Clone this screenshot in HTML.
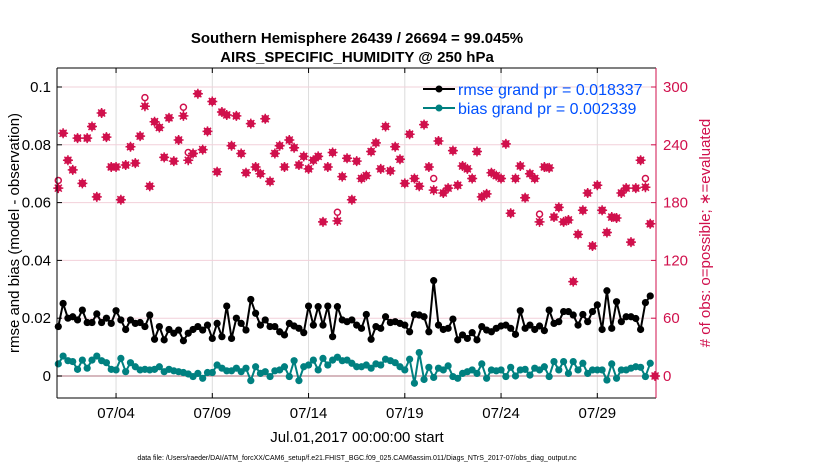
<!DOCTYPE html>
<html><head><meta charset="utf-8"><style>
html,body{margin:0;padding:0;background:#fff;}
svg{display:block;font-family:"Liberation Sans",sans-serif;}
</style></head><body>
<svg id="chart" width="830" height="470" viewBox="0 0 830 470" xmlns="http://www.w3.org/2000/svg">
<text x="357" y="43" text-anchor="middle" font-size="15" font-weight="bold">Southern Hemisphere 26439 / 26694 = 99.045%</text>
<text x="357" y="62" text-anchor="middle" font-size="15" font-weight="bold">AIRS_SPECIFIC_HUMIDITY @ 250 hPa</text>
<g id="grid"></g>
<g id="series"></g>
<g id="axes"></g>
<text transform="translate(19,233) rotate(-90)" text-anchor="middle" font-size="15">rmse and bias (model - observation)</text>
<text transform="translate(710,233) rotate(-90)" text-anchor="middle" font-size="15" fill="#d0104c"># of obs: o=possible; ∗=evaluated</text>
<text x="357" y="442" text-anchor="middle" font-size="15">Jul.01,2017 00:00:00 start</text>
<text x="357" y="460" text-anchor="middle" font-size="7">data file: /Users/raeder/DAI/ATM_forcXX/CAM6_setup/f.e21.FHIST_BGC.f09_025.CAM6assim.011/Diags_NTrS_2017-07/obs_diag_output.nc</text>
<g>
<line x1="423" y1="89" x2="455" y2="89" stroke="#000" stroke-width="2"/><circle cx="439" cy="89" r="3.5" fill="#000"/>
<text x="458" y="95" font-size="16" fill="#0050ff">rmse grand pr = 0.018337</text>
<line x1="423" y1="108" x2="455" y2="108" stroke="#008080" stroke-width="2"/><circle cx="439" cy="108" r="3.5" fill="#008080"/>
<text x="458" y="114" font-size="16" fill="#0050ff">bias grand pr = 0.002339</text>
</g>
</svg>
<script>
// rmse (x1e-3), 6-hourly
const rmse = [17.1,25.1,20.0,20.5,19.4,22.8,18.5,18.5,21.5,18.5,20.0,18.2,22.6,19.4,16.1,19.4,18.2,18.5,17.1,21.1,12.7,17.1,12.5,16.1,14.8,15.9,12.2,14.8,16.1,17.1,15.9,17.6,13.0,18.2,13.6,24.2,13.0,20.0,18.2,15.9,26.5,21.7,17.6,19.4,17.1,17.1,15.3,14.2,18.2,17.3,16.5,15.0,24.2,17.6,24.0,17.6,24.2,13.6,24.0,19.4,18.8,19.4,17.6,16.5,
21.3,12.7,17.1,16.5,20.5,18.5,18.8,18.2,17.6,15.3,21.3,21.1,20.5,15.3,33.0,17.6,16.1,16.5,19.7,12.5,14.2,13.0,15.0,12.5,17.1,15.9,15.3,16.5,17.3,17.6,16.5,14.4,22.6,16.5,17.6,16.1,17.3,15.7,22.8,18.2,18.8,22.3,22.3,21.1,17.6,21.3,18.8,22.3,24.6,16.1,29.5,16.5,25.7,18.8,20.5,20.5,19.9,16.1,25.4,27.7];
const bias = [4.2,6.9,5.3,5.0,2.3,5.5,2.7,5.5,6.9,5.3,4.6,2.3,2.1,6.1,1.5,4.6,3.2,2.1,2.3,2.1,2.3,3.2,1.5,2.3,1.8,1.5,1.2,0.7,-0.2,0.9,-0.8,1.2,1.2,3.8,2.7,1.8,1.8,2.7,1.5,2.7,-1.6,3.2,0.9,1.5,-0.2,1.8,2.1,3.2,-0.2,5.3,-1.6,3.2,3.8,5.5,2.1,6.1,3.8,5.5,6.5,5.3,5.5,4.4,3.2,3.2,
3.8,2.7,4.2,3.8,5.8,5.3,4.6,3.2,2.1,5.8,-2.5,8.1,-1.2,3.0,-0.5,2.7,2.1,3.5,-0.2,-0.8,0.9,1.5,2.1,0.9,4.2,-0.8,2.1,1.8,2.1,-0.2,3.0,0.0,2.1,2.3,0.3,2.7,2.1,3.2,-0.2,5.0,2.1,5.0,0.9,5.0,2.1,4.4,0.9,2.1,2.1,2.1,-1.4,4.2,-0.8,2.1,2.1,2.7,3.2,3.0,-0.2,4.4];
const nEval = [195,252,224,214,247,200,247,259,186,273,248,217,217,183,219,238,221,249,280,197,264,258,227,268,223,245,270,224,231,293,235,254,285,212,274,271,239,270,231,211,262,217,210,267,202,231,239,217,245,237,219,228,215,224,228,160,217,232,161,207,226,183,223,205,
208,233,242,215,259,213,238,225,200,251,205,197,261,217,193,244,190,195,234,198,218,215,205,233,186,189,211,208,205,241,169,205,218,185,210,205,160,217,216,165,175,160,162,98,147,172,190,135,198,172,149,165,164,190,195,139,195,224,196,158,0];
const nPossExtra = [8,0,0,0,0,0,0,0,0,0,0,0,0,0,0,0,0,0,9,0,0,0,0,0,0,0,9,8,0,0,0,0,0,0,0,0,0,0,0,0,0,0,0,0,0,0,0,0,0,0,0,0,0,0,0,0,0,0,9,0,0,0,0,0,
0,0,0,0,0,0,0,0,0,0,0,0,0,0,12,0,0,0,0,0,0,0,0,0,0,0,0,0,0,0,0,0,0,0,0,0,8,0,0,0,0,0,0,0,0,0,0,0,0,0,0,0,0,0,0,0,0,0,9,0,0];
const leftTicks = [0,0.02,0.04,0.06,0.08,0.1];
const leftTickLabels = ["0","0.02","0.04","0.06","0.08","0.1"];
const rightTicks = [0,60,120,180,240,300];
const xTickDays = [3,8,13,18,23,28];
const xTickLabels = ["07/04","07/09","07/14","07/19","07/24","07/29"];

const NS="http://www.w3.org/2000/svg";
const L=57,R=656,T=68,B=398;
const X0=58.3, PXD=19.25;
function xDay(d){return X0+d*PXD;}
function yL(v){return 376-v*2890;}
function yR(c){return 376-c*0.9633;}
function mk(tag,attrs,parent){const e=document.createElementNS(NS,tag);for(const k in attrs)e.setAttribute(k,attrs[k]);parent.appendChild(e);return e;}
const grid=document.getElementById('grid'),ser=document.getElementById('series'),ax=document.getElementById('axes');
xTickDays.forEach((d,i)=>{
  const g=mk('line',{x1:xDay(d),x2:xDay(d),y1:T,y2:B,stroke:'#dcdcdc','stroke-width':1},grid);
  
  
  mk('line',{x1:xDay(d),x2:xDay(d),y1:B,y2:B-5,stroke:'#000'},ax);
  mk('line',{x1:xDay(d),x2:xDay(d),y1:T,y2:T+5,stroke:'#000'},ax);
  const t=mk('text',{x:xDay(d),y:418,'text-anchor':'middle','font-size':15},ax);
  t.textContent=xTickLabels[i];
  
  
});
leftTicks.forEach((v,i)=>{
  const g=mk('line',{x1:L,x2:R,y1:yL(v),y2:yL(v),stroke:v===0?'#c9a0a8':'#f2d0da','stroke-width':v===0?1.5:1},grid);
  
  
  mk('line',{x1:L,x2:L+5,y1:yL(v),y2:yL(v),stroke:'#000'},ax);
  const t=mk('text',{x:51,y:yL(v)+5,'text-anchor':'end','font-size':15},ax);
  t.textContent=leftTickLabels[i];
  
  
});
rightTicks.forEach(c=>{
  mk('line',{x1:R,x2:R-5,y1:yR(c),y2:yR(c),stroke:'#d0104c'},ax);
  const t=mk('text',{x:663,y:yR(c)+5,'font-size':15,fill:'#d0104c'},ax);
  t.textContent=String(c);
  
  
});
mk('line',{x1:L,x2:L,y1:T,y2:B,stroke:'#000'},ax);
mk('line',{x1:L,x2:R,y1:B,y2:B,stroke:'#000'},ax);
mk('line',{x1:L,x2:R,y1:T,y2:T,stroke:'#000'},ax);
mk('line',{x1:R,x2:R,y1:T,y2:B,stroke:'#d0104c'},ax);

// obs counts
nEval.forEach((c,i)=>{
  const x=xDay(i*0.25);
  const pc=c+nPossExtra[i];
  const o=mk('circle',{cx:x,cy:yR(pc),r:3,fill:'none',stroke:'#d0104c','stroke-width':1.5},ser);
  
  
  const y=yR(c);
  const g=mk('g',{},ser);
  
  
  mk('circle',{cx:x,cy:y,r:3.4,fill:'#d0104c'},g);
  mk('path',{d:`M${x-5} ${y}H${x+5}M${x} ${y-5}V${y+5}M${x-3.5} ${y-3.5}L${x+3.5} ${y+3.5}M${x-3.5} ${y+3.5}L${x+3.5} ${y-3.5}`,stroke:'#d0104c','stroke-width':1.5},g);
});
function drawLine(arr,color,name){
  const pts=arr.map((v,i)=>[xDay(i*0.25),yL(v/1000)]);
  const p=mk('polyline',{points:pts.map(p=>p.join(',')).join(' '),fill:'none',stroke:color,'stroke-width':2},ser);
  
  
  pts.forEach(q=>{
    const c=mk('circle',{cx:q[0],cy:q[1],r:3.6,fill:color},ser);
    
    
  });
}
drawLine(bias,'#008080','bias');
drawLine(rmse,'#000000','rmse');
</script>
</body></html>
